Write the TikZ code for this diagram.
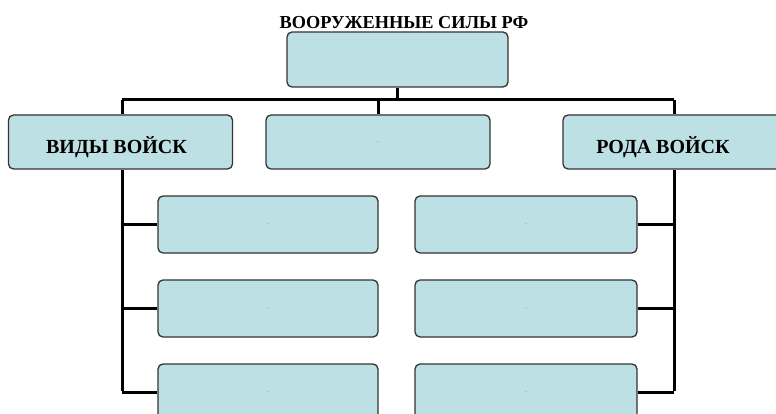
\documentclass[tikz,border=0pt]{standalone}
\usepackage{fontspec}
\setmainfont{Liberation Serif}
\definecolor{boxfill}{HTML}{BCE0E3}
\definecolor{boxline}{HTML}{333333}
\begin{document}
\begin{tikzpicture}[x=1pt,y=-1pt,
  box/.style={draw=boxline,line width=1.3pt,fill=boxfill,rounded corners=5pt,inner sep=0pt},
  conn/.style={draw=black,line width=3pt},
  lbl/.style={font=\bfseries\fontsize{20}{22}\selectfont,inner sep=0pt,anchor=base},
  dot/.style={font=\fontsize{8}{8}\selectfont,text=gray}]
\useasboundingbox (0,0) rectangle (776,414);
\clip (0,0) rectangle (776,414);
% title
\node[font=\bfseries\fontsize{18.3}{20}\selectfont,inner sep=0pt,anchor=base] (title) at (404,29) {ВООРУЖЕННЫЕ СИЛЫ РФ};
% boxes
\node[box,minimum width=221pt,minimum height=55pt] (top) at (397.5,59.5) {};
\node[box,minimum width=224pt,minimum height=54pt] (vid) at (120.5,142) {};
\node[lbl] (vidtext) at (116.5,154) {ВИДЫ ВОЙСК};
\node[box,minimum width=224pt,minimum height=54pt] (mid) at (378,142) {};
\node[dot] (middot) at (378,142) {.};
\node[box,minimum width=222pt,minimum height=54pt] (roda) at (674,142) {};
\node[lbl] (rodatext) at (663,154) {РОДА ВОЙСК};
% left column
\node[box,minimum width=220pt,minimum height=57pt] (l1) at (268,224.5) {};
\node[box,minimum width=220pt,minimum height=57pt] (l2) at (268,308.5) {};
\node[box,minimum width=220pt,minimum height=57pt] (l3) at (268,392.5) {};
% right column
\node[box,minimum width=222pt,minimum height=57pt] (r1) at (526,224.5) {};
\node[box,minimum width=222pt,minimum height=57pt] (r2) at (526,308.5) {};
\node[box,minimum width=222pt,minimum height=57pt] (r3) at (526,392.5) {};
\foreach \n in {l1,l2,l3,r1,r2,r3} {\node[dot] (\n dot) at (\n.center) {.};}
% connectors
\coordinate (busL) at (122,100);
\coordinate (busR) at (674,100);
\draw[conn] (busL) -- (busR);
\draw[conn] (top.south) -- (top.south |- busL);
\draw[conn] (busL) -- (vid.north -| busL);
\draw[conn] (mid.north |- busL) -- (mid.north);
\draw[conn] (busR) -- (roda.north -| busR);
\draw[conn] (vid.south -| busL) -- ([yshift=1.5pt]busL |- l3.west);
\draw[conn] (roda.south -| busR) -- ([yshift=1.5pt]busR |- r3.east);
\draw[conn] (busL |- l1.west) -- (l1.west);
\draw[conn] (busL |- l2.west) -- (l2.west);
\draw[conn] (busL |- l3.west) -- (l3.west);
\draw[conn] (busR |- r1.east) -- (r1.east);
\draw[conn] (busR |- r2.east) -- (r2.east);
\draw[conn] (busR |- r3.east) -- (r3.east);
\end{tikzpicture}
\end{document}
